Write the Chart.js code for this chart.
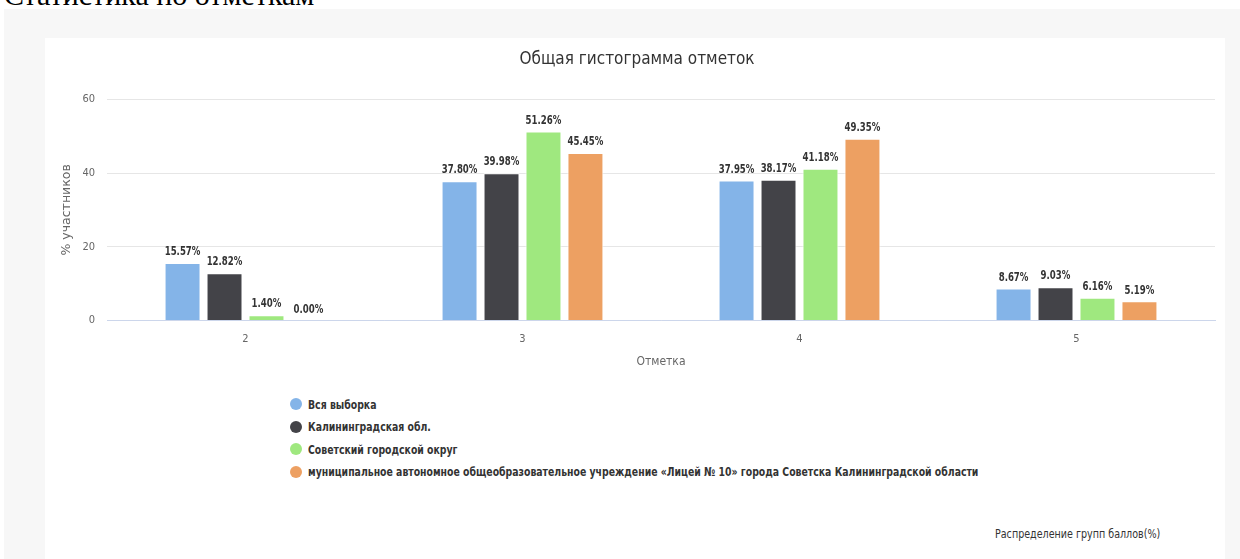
<!DOCTYPE html>
<html>
<head>
<meta charset="utf-8">
<script src="https://cdn.jsdelivr.net/npm/chart.js@4/dist/chart.umd.min.js"></script>
<style>
  html, body { margin: 0; padding: 0; background: #fff; width: 1240px; height: 559px; overflow: hidden; position: relative; }
  #heading { position: absolute; left: 4px; top: -22px; font-family: "Liberation Serif", "DejaVu Serif", serif; font-size: 30px; color: #000; white-space: nowrap; }
  #bg { position: absolute; left: 4px; top: 9px; width: 1236px; height: 550px; background: #f7f7f7; }
  #card { position: absolute; left: 45px; top: 38px; width: 1180px; height: 521px; background: #fff; }
  #chartBox { position: absolute; left: 0; top: 0; width: 1180px; height: 340px; }
  #legend { position: absolute; left: 245px; top: 355px; font-family: "DejaVu Sans Condensed", sans-serif; font-size: 12.5px; font-weight: bold; color: #333; }
  .li { height: 22.5px; display: flex; align-items: center; white-space: nowrap; }
  .dot { width: 12px; height: 12px; border-radius: 50%; margin-right: 6px; flex: none; }
  .lt { display: inline-block; transform: scaleX(0.83); transform-origin: left center; }
  #caption { position: absolute; left: 950px; top: 488px; font-family: "DejaVu Sans Condensed", sans-serif; font-size: 12.5px; color: #333; white-space: nowrap; transform: scaleX(0.85); transform-origin: left center; }
</style>
</head>
<body>
<div id="heading">Статистика по отметкам</div>
<div id="bg"></div>
<div id="card">
  <div id="chartBox"><canvas id="c" width="1180" height="340"></canvas></div>
  <div id="legend"></div>
  <div id="caption">Распределение групп баллов(%)</div>
</div>
<script>
const categories = ['2', '3', '4', '5'];
const seriesNames = [
  'Вся выборка',
  'Калининградская обл.',
  'Советский городской округ',
  'муниципальное автономное общеобразовательное учреждение «Лицей № 10» города Советска Калининградской области'
];
const vsyaVyborka = [15.57, 37.80, 37.95, 8.67];
const kaliningradObl = [12.82, 39.98, 38.17, 9.03];
const sovetskiyOkrug = [1.40, 51.26, 41.18, 6.16];
const litsey10 = [0.00, 45.45, 49.35, 5.19];
const seriesColors = ['#84b4e8', '#434348', '#9fe87f', '#eda062'];
const yTicks = [0, 20, 40, 60];
const chartTitle = 'Общая гистограмма отметок';
const yTitle = '% участников';
const xTitle = 'Отметка';

const FONT = '"DejaVu Sans Condensed", sans-serif';
const seriesValues = [vsyaVyborka, kaliningradObl, sovetskiyOkrug, litsey10];

const datasets = seriesValues.map((vals, i) => ({
  label: seriesNames[i],
  data: vals,
  backgroundColor: seriesColors[i],
  borderColor: '#ffffff',
  borderWidth: 1,
  categoryPercentage: 0.606,
  barPercentage: 0.857
}));

const dataLabels = {
  id: 'dataLabels',
  afterDatasetsDraw(chart) {
    const ctx = chart.ctx;
    chart.data.datasets.forEach((ds, di) => {
      const meta = chart.getDatasetMeta(di);
      meta.data.forEach((el, i) => {
        const v = ds.data[i];
        ctx.save();
        ctx.font = 'bold 11.5px ' + FONT;
        ctx.fillStyle = '#333';
        ctx.textAlign = 'center';
        ctx.textBaseline = 'bottom';
        ctx.translate(el.x, el.y - 5);
        ctx.scale(0.83, 1);
        ctx.fillText(v.toFixed(2) + '%', 0, 0);
        ctx.restore();
      });
    });
  }
};

new Chart(document.getElementById('c'), {
  type: 'bar',
  data: { labels: categories, datasets },
  plugins: [dataLabels],
  options: {
    responsive: false,
    animation: false,
    layout: { padding: { left: 14, right: 10, top: 0, bottom: 9 } },
    plugins: {
      legend: { display: false },
      tooltip: { enabled: false },
      title: {
        display: true,
        text: chartTitle,
        color: '#333',
        font: { family: FONT, size: 17, weight: 'normal' },
        padding: { top: 11, bottom: 30 }
      }
    },
    scales: {
      y: {
        min: 0, max: 60,
        afterBuildTicks(scale) { scale.ticks = yTicks.map(v => ({ value: v })); },
        afterFit(scale) { scale.width = 48; },
        ticks: { color: '#666', font: { family: FONT, size: 11 }, padding: 12 },
        grid: { color: '#e6e6e6', drawTicks: false },
        border: { display: false },
        title: { display: true, text: yTitle, color: '#666', font: { family: '"DejaVu Sans", sans-serif', size: 12.5 }, padding: { top: 0, bottom: 4 } }
      },
      x: {
        grid: { display: false },
        border: { color: '#ccd6eb', width: 1 },
        ticks: { color: '#666', font: { family: FONT, size: 11 }, padding: 4 },
        title: { display: true, text: xTitle, color: '#666', font: { family: FONT, size: 12 }, padding: { top: 5, bottom: 0 } }
      }
    }
  }
});

const legend = document.getElementById('legend');
seriesNames.forEach((name, i) => {
  const row = document.createElement('div');
  row.className = 'li';
  const dot = document.createElement('span');
  dot.className = 'dot';
  dot.style.background = seriesColors[i];
  const t = document.createElement('span');
  t.className = 'lt';
  t.textContent = name;
  row.appendChild(dot);
  row.appendChild(t);
  legend.appendChild(row);
});
</script>
</body>
</html>
